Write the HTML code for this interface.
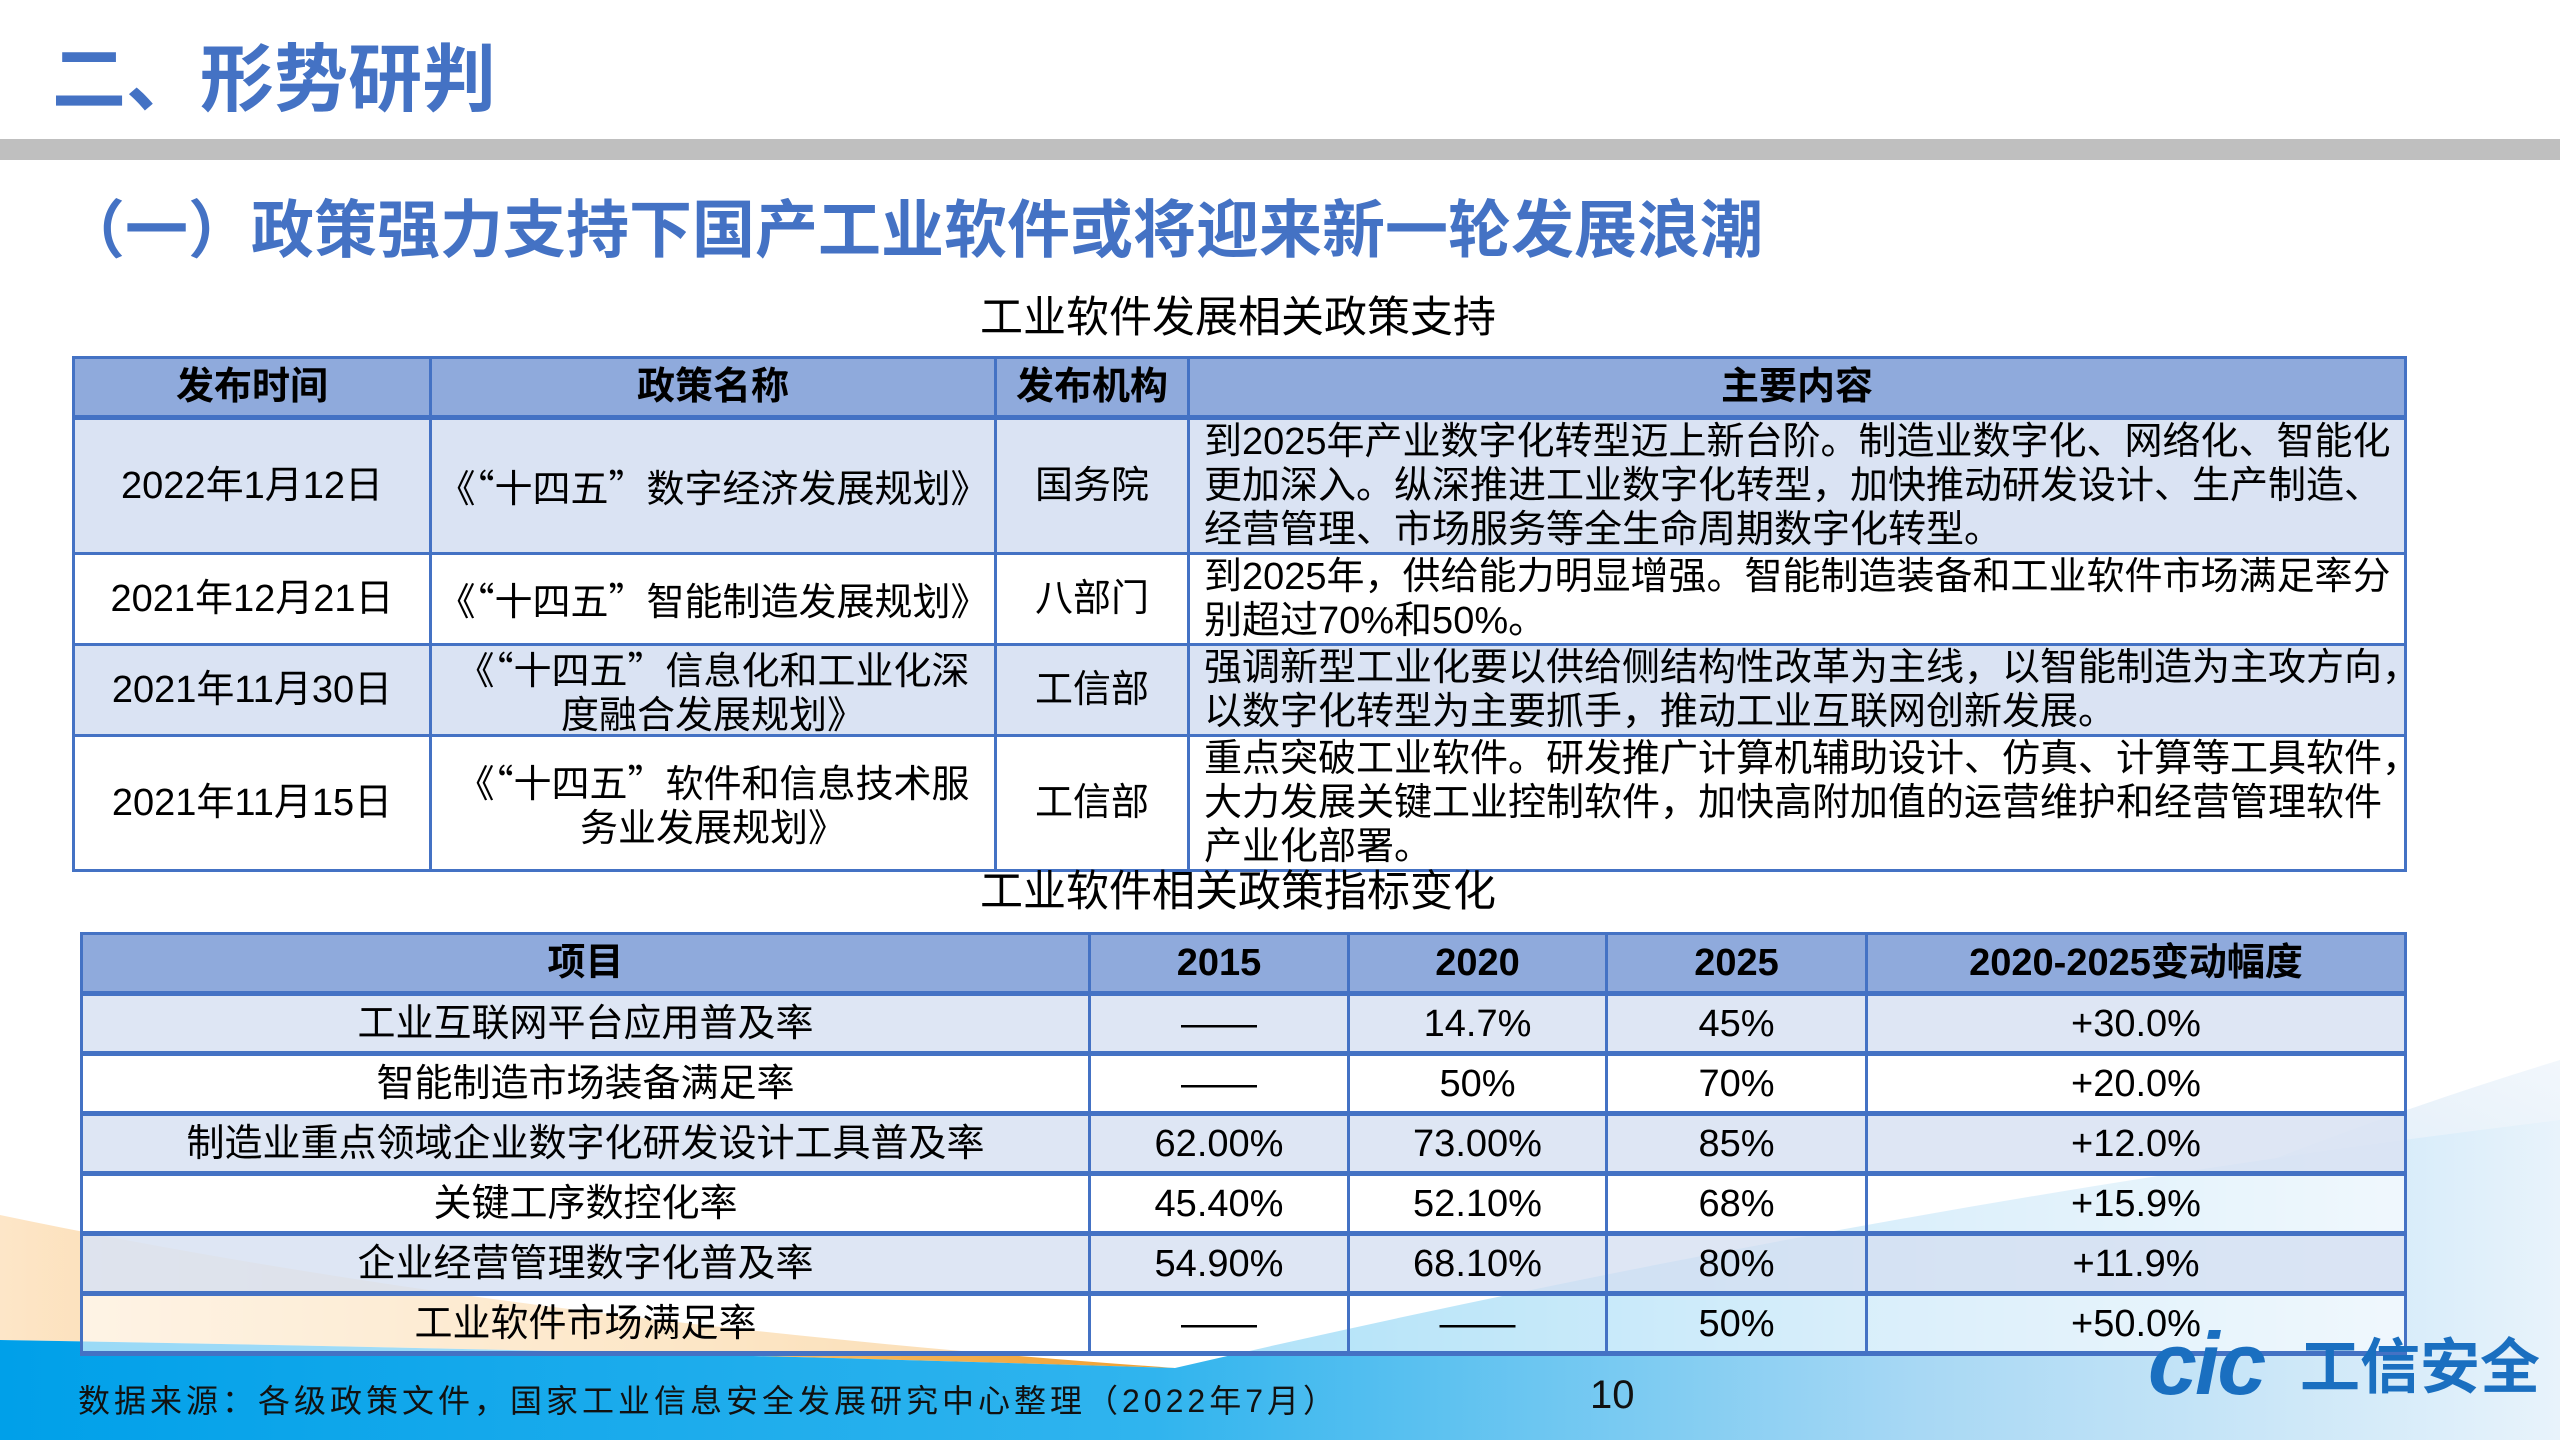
<!DOCTYPE html>
<html><head><meta charset="utf-8"><style>
*{margin:0;padding:0;box-sizing:border-box}
body{width:2560px;height:1440px;position:relative;overflow:hidden;background:#fff;font-family:"Liberation Sans","Noto Sans CJK SC",sans-serif;color:#000}
.abs{position:absolute}
table{border-collapse:collapse;position:absolute;table-layout:fixed}
td{border:3px solid #4472C4;font-size:38px;text-align:center;vertical-align:middle;white-space:nowrap;line-height:44px;padding:0}
tr.h td{background:#8FAADC;font-weight:bold;border-bottom:5px solid #4472C4}
tr.a td{background:#DAE3F3}
td.l{text-align:left;padding-left:14px}
.q{font-family:"Noto Sans CJK SC",sans-serif}
#t2 td{background-clip:padding-box}
#t2 tr.a td{background:rgba(218,227,243,0.9)}
#t2 tr.w td{background:rgba(255,255,255,0.6)}
#t2 td{border-bottom-width:5px}
</style></head><body>
<svg class="abs" style="left:0;top:0" width="2560" height="1440">
<defs>
<linearGradient id="bl" x1="0" x2="1" y1="0" y2="0"><stop offset="0" stop-color="#00a0e9"/><stop offset="0.45" stop-color="#30b4ee"/><stop offset="0.75" stop-color="#a8d8f4"/><stop offset="1" stop-color="#e8f3fb"/></linearGradient>
<linearGradient id="or" x1="0" x2="1" y1="0" y2="0"><stop offset="0" stop-color="#fde6c8"/><stop offset="0.6" stop-color="#f8c070"/><stop offset="1" stop-color="#f0a030"/></linearGradient>
<linearGradient id="lb" x1="0" x2="1" y1="1" y2="0"><stop offset="0" stop-color="#b8d8f0"/><stop offset="1" stop-color="#f2f7fc"/></linearGradient>
</defs>
<path d="M1700,1440 Q2100,1200 2560,1060 L2560,1440 Z" fill="url(#lb)"/>
<path d="M0,1215 Q500,1320 1175,1368 Q600,1350 0,1340 Z" fill="url(#or)"/>
<path d="M0,1340 Q600,1350 1175,1368 Q1900,1200 2560,1120 L2560,1440 L0,1440 Z" fill="url(#bl)"/>
</svg>
<div class="abs" style="left:52px;top:30px;font-size:74px;font-weight:bold;color:#4472C4;line-height:100px">二、形势研判</div>
<div class="abs" style="left:0;top:139px;width:2560px;height:21px;background:#bfbfbf"></div>
<div class="abs" style="left:62px;top:186px;font-size:63px;font-weight:bold;color:#4472C4;line-height:80px"><span class="q">（一）</span>政策强力支持下国产工业软件或将迎来新一轮发展浪潮</div>
<div class="abs" style="left:0;width:2476px;text-align:center;top:292px;font-size:43px;line-height:52px">工业软件发展相关政策支持</div>
<table style="left:72px;top:356px;width:2332px">
<colgroup><col style="width:357px"><col style="width:565px"><col style="width:193px"><col style="width:1217px"></colgroup>
<tr class="h" style="height:60px"><td>发布时间</td><td>政策名称</td><td>发布机构</td><td>主要内容</td></tr>
<tr class="a" style="height:132px"><td>2022年1月12日</td><td class="q">《“十四五”数字经济发展规划》</td><td>国务院</td><td class="l">到2025年产业数字化转型迈上新台阶。制造业数字化、网络化、智能化<br>更加深入。纵深推进工业数字化转型，加快推动研发设计、生产制造、<br>经营管理、市场服务等全生命周期数字化转型。</td></tr>
<tr style="height:88px"><td>2021年12月21日</td><td class="q">《“十四五”智能制造发展规划》</td><td>八部门</td><td class="l">到2025年，供给能力明显增强。智能制造装备和工业软件市场满足率分<br>别超过70%和50%。</td></tr>
<tr class="a" style="height:86px"><td>2021年11月30日</td><td class="q">《“十四五”信息化和工业化深<br>度融合发展规划》</td><td>工信部</td><td class="l">强调新型工业化要以供给侧结构性改革为主线，以智能制造为主攻方向，<br>以数字化转型为主要抓手，推动工业互联网创新发展。</td></tr>
<tr style="height:132px"><td>2021年11月15日</td><td class="q">《“十四五”软件和信息技术服<br>务业发展规划》</td><td>工信部</td><td class="l">重点突破工业软件。研发推广计算机辅助设计、仿真、计算等工具软件，<br>大力发展关键工业控制软件，加快高附加值的运营维护和经营管理软件<br>产业化部署。</td></tr>
</table>
<div class="abs" style="left:0;width:2476px;text-align:center;top:866px;font-size:43px;line-height:52px">工业软件相关政策指标变化</div>
<table id="t2" style="left:80px;top:932px;width:2324px">
<colgroup><col style="width:1008px"><col style="width:259px"><col style="width:258px"><col style="width:260px"><col style="width:539px"></colgroup>
<tr class="h" style="height:60px"><td>项目</td><td>2015</td><td>2020</td><td>2025</td><td>2020-2025变动幅度</td></tr>
<tr class="a" style="height:60px"><td>工业互联网平台应用普及率</td><td>——</td><td>14.7%</td><td>45%</td><td>+30.0%</td></tr>
<tr class="w" style="height:60px"><td>智能制造市场装备满足率</td><td>——</td><td>50%</td><td>70%</td><td>+20.0%</td></tr>
<tr class="a" style="height:60px"><td>制造业重点领域企业数字化研发设计工具普及率</td><td>62.00%</td><td>73.00%</td><td>85%</td><td>+12.0%</td></tr>
<tr class="w" style="height:60px"><td>关键工序数控化率</td><td>45.40%</td><td>52.10%</td><td>68%</td><td>+15.9%</td></tr>
<tr class="a" style="height:60px"><td>企业经营管理数字化普及率</td><td>54.90%</td><td>68.10%</td><td>80%</td><td>+11.9%</td></tr>
<tr class="w" style="height:60px"><td>工业软件市场满足率</td><td>——</td><td>——</td><td>50%</td><td>+50.0%</td></tr>
</table>
<div class="abs" style="left:78px;top:1380px;font-size:32px;line-height:42px;letter-spacing:4px;color:#111">数据来源：各级政策文件，国家工业信息安全发展研究中心整理（2022年7月）</div>
<div class="abs" style="left:1590px;top:1370px;font-size:40px;line-height:50px;color:#111">10</div>
<div class="abs" style="left:2148px;top:1316px;font-size:88px;font-weight:bold;font-style:italic;color:#1a6fc0;line-height:96px;letter-spacing:-2px">cic</div>
<div class="abs" style="left:2300px;top:1330px;font-size:60px;font-weight:bold;color:#1a6fc0;line-height:76px">工信安全</div>
</body></html>
